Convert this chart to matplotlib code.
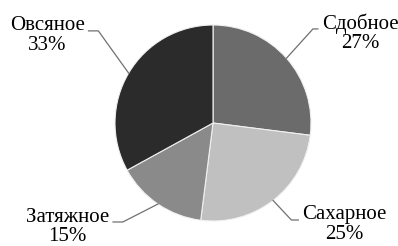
import numpy as np
import matplotlib.pyplot as plt
from matplotlib import font_manager

# data
labels = ['Сдобное', 'Сахарное', 'Затяжное', 'Овсяное']
shares = [27, 25, 15, 33]
colors = ['#6b6b6b', '#c0c0c0', '#8a8a8a', '#2b2b2b']

# label layout (data units, pie radius = 1): elbow point, text anchor, alignment
elbows = [(1.02, 0.96), (0.80, -0.99), (-0.92, -1.01), (-1.17, 0.94)]
text_pos = [(1.11, 0.915), (0.91, -1.035), (-1.06, -1.06), (-1.31, 0.895)]
aligns = ['left', 'left', 'right', 'right']

# load the serif font straight from its file
serif_path = font_manager.findfont('Liberation Serif')
label_font = font_manager.FontProperties(fname=serif_path, size=15)

fig = plt.figure(figsize=(3.98, 2.46), dpi=100)
ax = fig.add_axes([0, 0, 1, 1])

wedges, _ = ax.pie(shares, colors=colors, startangle=90, counterclock=False,
                   radius=1, center=(0, 0),
                   wedgeprops=dict(edgecolor='#f0f0f0', linewidth=0.8))

for w, lab, val, elb, tp, ha in zip(wedges, labels, shares, elbows, text_pos, aligns):
    mid = np.deg2rad((w.theta1 + w.theta2) / 2)
    xe, ye = np.cos(mid), np.sin(mid)
    # short horizontal piece next to the text
    xend = tp[0] - 0.04 if ha == 'left' else tp[0] + 0.04
    ax.plot([xe, elb[0], xend], [ye, elb[1], elb[1]], color='#707070', lw=0.9)
    ax.text(tp[0], tp[1], f'{lab}\n{val}%', ha=ha, va='center',
            multialignment='center', linespacing=1.05,
            fontproperties=label_font)

ax.set_xlim(-213 / 98, 185 / 98)
ax.set_ylim(-123 / 98, 123 / 98)
ax.axis('off')

fig.savefig('out.png', dpi=100)
